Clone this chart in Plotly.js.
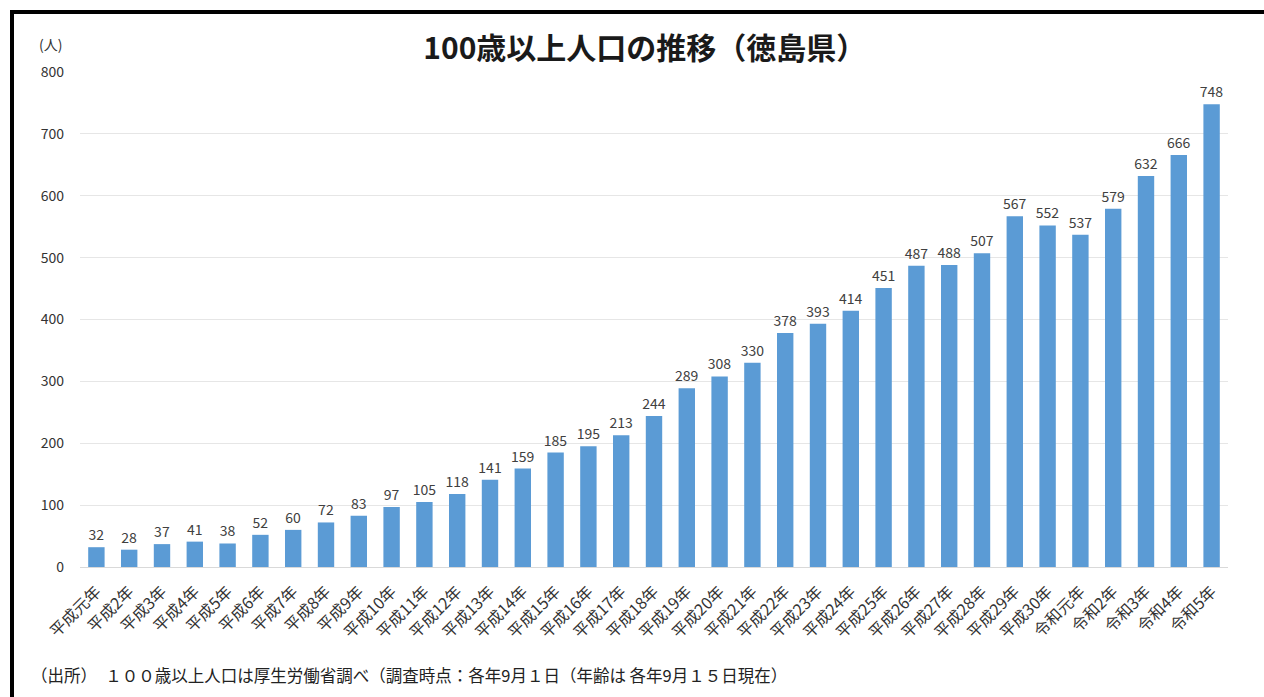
<!DOCTYPE html>
<html>
<head>
<meta charset="utf-8">
<script src="https://cdn.plot.ly/plotly-3.0.1.min.js"></script>
<style>
  html, body { margin: 0; padding: 0; background: #fff; }
  #wrap { position: relative; width: 1264px; height: 697px; overflow: hidden; }
  #frame { position: absolute; left: 10px; top: 10px; width: 1270px; height: 700px;
           border-top: 4px solid #000; border-left: 4px solid #000; box-sizing: border-box; pointer-events: none; z-index: 5; }
  #chart { position: absolute; left: 0; top: 0; width: 1264px; height: 697px; }
</style>
</head>
<body>
<div id="wrap">
  <div id="chart"></div>
  <div id="frame"></div>
</div>
<script>
const categories = [
  "平成元年","平成2年","平成3年","平成4年","平成5年","平成6年","平成7年","平成8年","平成9年","平成10年",
  "平成11年","平成12年","平成13年","平成14年","平成15年","平成16年","平成17年","平成18年","平成19年","平成20年",
  "平成21年","平成22年","平成23年","平成24年","平成25年","平成26年","平成27年","平成28年","平成29年","平成30年",
  "令和元年","令和2年","令和3年","令和4年","令和5年"
];
const centenarians = [
  32,28,37,41,38,52,60,72,83,97,
  105,118,141,159,185,195,213,244,289,308,
  330,378,393,414,451,487,488,507,567,552,
  537,579,632,666,748
];
const yTicks = [0,100,200,300,400,500,600,700,800];
const titleText = "100歳以上人口の推移（徳島県）";
const unitText = "(人)";
const sourceText = "（出所）　１００歳以上人口は厚生労働省調べ（調査時点：各年9月１日（年齢は 各年9月１５日現在）";

const font = '"Noto Sans CJK JP", "Noto Sans", sans-serif';

const trace = {
  type: 'bar',
  x: categories,
  y: centenarians,
  marker: { color: '#5b9bd5' },
  text: centenarians.map(String),
  textposition: 'outside',
  constraintext: 'none',
  textfont: { family: font, size: 14, color: '#404040' },
  cliponaxis: false,
  hoverinfo: 'x+y'
};

const layout = {
  width: 1264,
  height: 697,
  margin: { l: 80, r: 36, t: 72, b: 130 },
  paper_bgcolor: '#ffffff',
  plot_bgcolor: '#ffffff',
  bargap: 0.5,
  showlegend: false,
  font: { family: font, color: '#404040' },
  title: {
    text: '<b>' + titleText + '</b>',
    font: { family: font, size: 30, color: '#1a1a1a' },
    x: 0.492, xref: 'paper', xanchor: 'center',
    y: 0.931, yref: 'container', yanchor: 'middle'
  },
  xaxis: {
    type: 'category',
    tickangle: -45,
    tickfont: { family: font, size: 16, color: '#333333' },
    showgrid: false,
    showline: true,
    linecolor: '#d9d9d9',
    linewidth: 1,
    ticks: '',
    ticklabelstandoff: 8,
    automargin: false
  },
  yaxis: {
    range: [0, 800],
    tickvals: yTicks,
    ticktext: yTicks.map(String),
    tickfont: { family: font, size: 14, color: '#333333' },
    showgrid: true,
    gridcolor: '#e6e6e6',
    gridwidth: 1,
    zeroline: false,
    showline: false,
    ticks: '',
    ticklabelstandoff: 15,
    automargin: false
  },
  annotations: [
    {
      text: unitText, xref: 'paper', yref: 'paper', x: -0.026, y: 1.057,
      xanchor: 'center', yanchor: 'middle', showarrow: false,
      font: { family: font, size: 14, color: '#333333' }
    },
    {
      text: sourceText, xref: 'paper', yref: 'paper', x: -0.044, y: -0.218,
      xanchor: 'left', yanchor: 'middle', showarrow: false,
      font: { family: font, size: 16.5, color: '#222222' }
    }
  ]
};

Plotly.newPlot('chart', [trace], layout, { displayModeBar: false, responsive: false });
</script>
</body>
</html>
